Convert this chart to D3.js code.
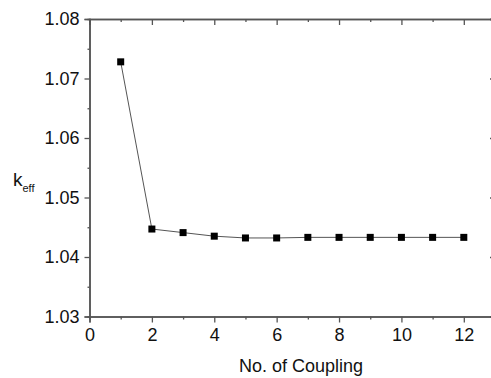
<!DOCTYPE html>
<html>
<head>
<meta charset="utf-8">
<script src="https://cdn.jsdelivr.net/npm/d3@7"></script>
<style>
  body { margin: 0; background: #fff; }
  svg text { font-family: "Liberation Sans", Arial, sans-serif; fill: #111; }
</style>
</head>
<body>
<div id="chart"></div>
<script>
// data
var couplings = [1, 2, 3, 4, 5, 6, 7, 8, 9, 10, 11, 12];
var keff = [1.0728, 1.0447, 1.0441, 1.0435, 1.0432, 1.0432, 1.0433, 1.0433, 1.0433, 1.0433, 1.0433, 1.0433];
var xTicks = [0, 2, 4, 6, 8, 10, 12];
var yTicks = [1.03, 1.04, 1.05, 1.06, 1.07, 1.08];

var W = 491, H = 378;
var pLeft = 89.5, pTop = 19, pBottom = 316.5, pRight = 495;

var svg = d3.select("#chart").append("svg")
  .attr("width", W)
  .attr("height", H);

var xScale = d3.scaleLinear().domain([0, 13]).range([pLeft, pRight]);
var yScale = d3.scaleLinear().domain([1.03, 1.08]).range([pBottom, pTop]);

var axisColor = "#555";

// bottom axis, ticks outward
svg.append("g")
  .attr("transform", "translate(0," + pBottom + ")")
  .call(d3.axisBottom(xScale).tickValues(xTicks).tickFormat(d3.format("d")).tickSize(6).tickPadding(6));
svg.append("g")
  .attr("transform", "translate(0," + pBottom + ")")
  .call(d3.axisBottom(xScale).tickValues(d3.range(1, 13, 2)).tickFormat("").tickSize(3));

// top axis, ticks pointing into the plot
svg.append("g")
  .attr("transform", "translate(0," + pTop + ")")
  .call(d3.axisTop(xScale).tickValues(xTicks).tickFormat("").tickSize(-6));
svg.append("g")
  .attr("transform", "translate(0," + pTop + ")")
  .call(d3.axisTop(xScale).tickValues(d3.range(1, 13, 2)).tickFormat("").tickSize(-3));

// left axis, ticks outward
svg.append("g")
  .attr("transform", "translate(" + pLeft + ",0)")
  .call(d3.axisLeft(yScale).tickValues(yTicks).tickFormat(d3.format(".2f")).tickSize(5).tickPadding(5));
svg.append("g")
  .attr("transform", "translate(" + pLeft + ",0)")
  .call(d3.axisLeft(yScale).tickValues([1.035, 1.045, 1.055, 1.065, 1.075]).tickFormat("").tickSize(2));

// right axis (mostly off the edge), ticks inward
svg.append("g")
  .attr("transform", "translate(" + pRight + ",0)")
  .call(d3.axisRight(yScale).tickValues(yTicks).tickFormat("").tickSize(-5));

svg.selectAll(".domain").attr("stroke", axisColor).attr("stroke-width", 1.5);
svg.selectAll(".tick line").attr("stroke", axisColor).attr("stroke-width", 1.3);
svg.selectAll(".tick text")
  .style("font-size", "18px")
  .style("font-family", "'Liberation Sans', Arial, sans-serif")
  .attr("fill", "#111");

// line and markers
var line = d3.line()
  .x(function(d, i) { return xScale(couplings[i]); })
  .y(function(d) { return yScale(d); });

svg.append("path")
  .datum(keff)
  .attr("fill", "none")
  .attr("stroke", "#555")
  .attr("stroke-width", 1)
  .attr("d", line);

var ms = 7;
svg.selectAll(".dot")
  .data(keff)
  .enter().append("rect")
  .attr("class", "dot")
  .attr("x", function(d, i) { return xScale(couplings[i]) - ms / 2; })
  .attr("y", function(d) { return yScale(d) - ms / 2; })
  .attr("width", ms)
  .attr("height", ms)
  .attr("fill", "#000");

// axis titles
svg.append("text")
  .attr("x", 301)
  .attr("y", 372)
  .attr("text-anchor", "middle")
  .style("font-size", "18px")
  .text("No. of Coupling");

var yt = svg.append("text")
  .attr("x", 13)
  .attr("y", 186)
  .style("font-size", "19px");
yt.append("tspan").text("k");
yt.append("tspan").attr("dy", 6).style("font-size", "11px").text("eff");
</script>
</body>
</html>
